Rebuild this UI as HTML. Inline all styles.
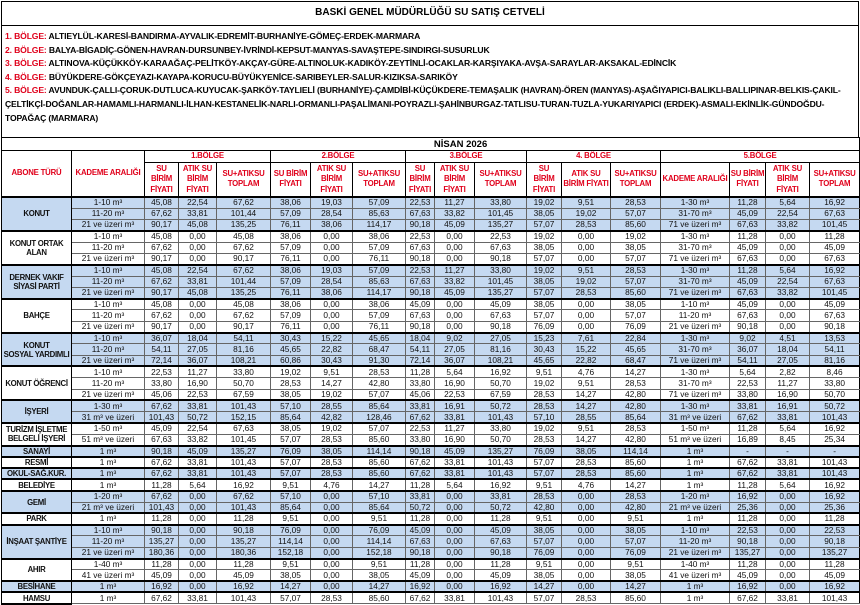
<!DOCTYPE html>
<html><head><meta charset="utf-8">
<style>
*{margin:0;padding:0;box-sizing:border-box}
body{width:860px;height:603px;background:#fff;font-family:"Liberation Sans",sans-serif;overflow:hidden;position:relative}
.top{position:absolute;left:1px;top:1px;width:858px;height:25px;border:1.5px solid #000;text-align:center;font-weight:bold;font-size:10px;line-height:22px}
.lines{position:absolute;left:1px;top:25px;width:858px;height:113px;border:1.5px solid #000;border-top:none;font-weight:bold;font-size:8.6px;padding:5px 0 0 3px;line-height:13.6px;letter-spacing:-0.15px;white-space:nowrap}
.lines b{color:#e0001b}
table{position:absolute;left:1px;top:137px;border-collapse:collapse;table-layout:fixed;width:858px;font-size:8.3px;color:#111}
td{border:1px solid #666;text-align:center;padding:0;line-height:9px;overflow:hidden;white-space:nowrap}
.h td{font-weight:bold;color:#e0001b;border-color:#000;font-size:7.8px;letter-spacing:-0.2px;line-height:10.5px}
.nis td{color:#000;font-weight:bold;font-size:9.5px;border:1.5px solid #000;line-height:11px}
tr.d td{height:11.3px}
tr.b td{background:#c5d9f1}
tr.g td{border-top:2px solid #000}
td.a{font-weight:bold;font-size:7.8px;letter-spacing:-0.3px;border-right:1.5px solid #000;border-left:1.5px solid #000;border-bottom:2px solid #000}
tr.d td:nth-last-child(4),tr.d td:nth-last-child(7),tr.d td:nth-last-child(10),tr.d td:nth-last-child(13),tr.d td:nth-last-child(16),tr.d td:nth-last-child(17){border-left:1.5px solid #000}
tr.d td:last-child{border-right:1.5px solid #000}
</style></head><body>
<div class="top">BASKİ GENEL MÜDÜRLÜĞÜ SU SATIŞ CETVELİ</div>
<div class="lines">
<b>1. BÖLGE:</b> ALTIEYLÜL-KARESİ-BANDIRMA-AYVALIK-EDREMİT-BURHANİYE-GÖMEÇ-ERDEK-MARMARA<br>
<b>2. BÖLGE:</b> BALYA-BİGADİÇ-GÖNEN-HAVRAN-DURSUNBEY-İVRİNDİ-KEPSUT-MANYAS-SAVAŞTEPE-SINDIRGI-SUSURLUK<br>
<b>3. BÖLGE:</b> ALTINOVA-KÜÇÜKKÖY-KARAAĞAÇ-PELİTKÖY-AKÇAY-GÜRE-ALTINOLUK-KADIKÖY-ZEYTİNLİ-OCAKLAR-KARŞIYAKA-AVŞA-SARAYLAR-AKSAKAL-EDİNCİK<br>
<b>4. BÖLGE:</b> BÜYÜKDERE-GÖKÇEYAZI-KAYAPA-KORUCU-BÜYÜKYENİCE-SARIBEYLER-SALUR-KIZIKSA-SARIKÖY<br>
<b>5. BÖLGE:</b> AVUNDUK-ÇALLI-ÇORUK-DUTLUCA-KUYUCAK-ŞARKÖY-TAYLIELİ (BURHANİYE)-ÇAMDİBİ-KÜÇÜKDERE-TEMAŞALIK (HAVRAN)-ÖREN (MANYAS)-AŞAĞIYAPICI-BALIKLI-BALLIPINAR-BELKIS-ÇAKIL-<br>
ÇELTİKÇİ-DOĞANLAR-HAMAMLI-HARMANLI-İLHAN-KESTANELİK-NARLI-ORMANLI-PAŞALİMANI-POYRAZLI-ŞAHİNBURGAZ-TATLISU-TURAN-TUZLA-YUKARIYAPICI (ERDEK)-ASMALI-EKİNLİK-GÜNDOĞDU-<br>
TOPAĞAÇ (MARMARA)
</div>
<table>
<colgroup><col style="width:70px"><col style="width:73px"><col style="width:34px"><col style="width:38px"><col style="width:54px"><col style="width:40px"><col style="width:42px"><col style="width:53px"><col style="width:29px"><col style="width:40px"><col style="width:52px"><col style="width:35px"><col style="width:49px"><col style="width:50px"><col style="width:69px"><col style="width:36px"><col style="width:44px"><col style="width:50px"></colgroup>
<tr class="nis"><td colspan="18" style="height:13px;text-align:center;padding-left:60px">NİSAN 2026</td></tr>
<tr class="h"><td rowspan="2">ABONE TÜRÜ</td><td rowspan="2">KADEME ARALIĞI</td><td colspan="3" style="height:11px">1.BÖLGE</td><td colspan="3">2.BÖLGE</td><td colspan="3">3.BÖLGE</td><td colspan="3">4. BÖLGE</td><td colspan="4">5.BÖLGE</td></tr>
<tr class="h"><td style="height:35px">SU<br>BİRİM<br>FİYATI</td><td>ATIK SU<br>BİRİM<br>FİYATI</td><td>SU+ATIKSU<br>TOPLAM</td><td>SU BİRİM<br>FİYATI</td><td>ATIK SU<br>BİRİM<br>FİYATI</td><td>SU+ATIKSU<br>TOPLAM</td><td>SU<br>BİRİM<br>FİYATI</td><td>ATIK SU<br>BİRİM<br>FİYATI</td><td>SU+ATIKSU<br>TOPLAM</td><td>SU<br>BİRİM<br>FİYATI</td><td>ATIK SU<br>BİRİM FİYATI</td><td>SU+ATIKSU<br>TOPLAM</td><td>KADEME ARALIĞI</td><td>SU BİRİM<br>FİYATI</td><td>ATIK SU<br>BİRİM<br>FİYATI</td><td>SU+ATIKSU<br>TOPLAM</td></tr>

<tr class="d b g"><td class="a" rowspan="3">KONUT</td><td>1-10 m³</td><td>45,08</td><td>22,54</td><td>67,62</td><td>38,06</td><td>19,03</td><td>57,09</td><td>22,53</td><td>11,27</td><td>33,80</td><td>19,02</td><td>9,51</td><td>28,53</td><td>1-30 m³</td><td>11,28</td><td>5,64</td><td>16,92</td></tr>
<tr class="d b"><td>11-20 m³</td><td>67,62</td><td>33,81</td><td>101,44</td><td>57,09</td><td>28,54</td><td>85,63</td><td>67,63</td><td>33,82</td><td>101,45</td><td>38,05</td><td>19,02</td><td>57,07</td><td>31-70 m³</td><td>45,09</td><td>22,54</td><td>67,63</td></tr>
<tr class="d b"><td>21 ve üzeri m³</td><td>90,17</td><td>45,08</td><td>135,25</td><td>76,11</td><td>38,06</td><td>114,17</td><td>90,18</td><td>45,09</td><td>135,27</td><td>57,07</td><td>28,53</td><td>85,60</td><td>71 ve üzeri m³</td><td>67,63</td><td>33,82</td><td>101,45</td></tr>

<tr class="d g"><td class="a" rowspan="3">KONUT ORTAK<br>ALAN</td><td>1-10 m³</td><td>45,08</td><td>0,00</td><td>45,08</td><td>38,06</td><td>0,00</td><td>38,06</td><td>22,53</td><td>0,00</td><td>22,53</td><td>19,02</td><td>0,00</td><td>19,02</td><td>1-30 m³</td><td>11,28</td><td>0,00</td><td>11,28</td></tr>
<tr class="d"><td>11-20 m³</td><td>67,62</td><td>0,00</td><td>67,62</td><td>57,09</td><td>0,00</td><td>57,09</td><td>67,63</td><td>0,00</td><td>67,63</td><td>38,05</td><td>0,00</td><td>38,05</td><td>31-70 m³</td><td>45,09</td><td>0,00</td><td>45,09</td></tr>
<tr class="d"><td>21 ve üzeri m³</td><td>90,17</td><td>0,00</td><td>90,17</td><td>76,11</td><td>0,00</td><td>76,11</td><td>90,18</td><td>0,00</td><td>90,18</td><td>57,07</td><td>0,00</td><td>57,07</td><td>71 ve üzeri m³</td><td>67,63</td><td>0,00</td><td>67,63</td></tr>

<tr class="d b g"><td class="a" rowspan="3">DERNEK VAKIF<br>SİYASİ PARTİ</td><td>1-10 m³</td><td>45,08</td><td>22,54</td><td>67,62</td><td>38,06</td><td>19,03</td><td>57,09</td><td>22,53</td><td>11,27</td><td>33,80</td><td>19,02</td><td>9,51</td><td>28,53</td><td>1-30 m³</td><td>11,28</td><td>5,64</td><td>16,92</td></tr>
<tr class="d b"><td>11-20 m³</td><td>67,62</td><td>33,81</td><td>101,44</td><td>57,09</td><td>28,54</td><td>85,63</td><td>67,63</td><td>33,82</td><td>101,45</td><td>38,05</td><td>19,02</td><td>57,07</td><td>31-70 m³</td><td>45,09</td><td>22,54</td><td>67,63</td></tr>
<tr class="d b"><td>21 ve üzeri m³</td><td>90,17</td><td>45,08</td><td>135,25</td><td>76,11</td><td>38,06</td><td>114,17</td><td>90,18</td><td>45,09</td><td>135,27</td><td>57,07</td><td>28,53</td><td>85,60</td><td>71 ve üzeri m³</td><td>67,63</td><td>33,82</td><td>101,45</td></tr>

<tr class="d g"><td class="a" rowspan="3">BAHÇE</td><td>1-10 m³</td><td>45,08</td><td>0,00</td><td>45,08</td><td>38,06</td><td>0,00</td><td>38,06</td><td>45,09</td><td>0,00</td><td>45,09</td><td>38,05</td><td>0,00</td><td>38,05</td><td>1-10 m³</td><td>45,09</td><td>0,00</td><td>45,09</td></tr>
<tr class="d"><td>11-20 m³</td><td>67,62</td><td>0,00</td><td>67,62</td><td>57,09</td><td>0,00</td><td>57,09</td><td>67,63</td><td>0,00</td><td>67,63</td><td>57,07</td><td>0,00</td><td>57,07</td><td>11-20 m³</td><td>67,63</td><td>0,00</td><td>67,63</td></tr>
<tr class="d"><td>21 ve üzeri m³</td><td>90,17</td><td>0,00</td><td>90,17</td><td>76,11</td><td>0,00</td><td>76,11</td><td>90,18</td><td>0,00</td><td>90,18</td><td>76,09</td><td>0,00</td><td>76,09</td><td>21 ve üzeri m³</td><td>90,18</td><td>0,00</td><td>90,18</td></tr>

<tr class="d b g"><td class="a" rowspan="3">KONUT<br>SOSYAL YARDIMLI</td><td>1-10 m³</td><td>36,07</td><td>18,04</td><td>54,11</td><td>30,43</td><td>15,22</td><td>45,65</td><td>18,04</td><td>9,02</td><td>27,05</td><td>15,23</td><td>7,61</td><td>22,84</td><td>1-30 m³</td><td>9,02</td><td>4,51</td><td>13,53</td></tr>
<tr class="d b"><td>11-20 m³</td><td>54,11</td><td>27,05</td><td>81,16</td><td>45,65</td><td>22,82</td><td>68,47</td><td>54,11</td><td>27,05</td><td>81,16</td><td>30,43</td><td>15,22</td><td>45,65</td><td>31-70 m³</td><td>36,07</td><td>18,04</td><td>54,11</td></tr>
<tr class="d b"><td>21 ve üzeri m³</td><td>72,14</td><td>36,07</td><td>108,21</td><td>60,86</td><td>30,43</td><td>91,30</td><td>72,14</td><td>36,07</td><td>108,21</td><td>45,65</td><td>22,82</td><td>68,47</td><td>71 ve üzeri m³</td><td>54,11</td><td>27,05</td><td>81,16</td></tr>

<tr class="d g"><td class="a" rowspan="3">KONUT ÖĞRENCİ</td><td>1-10 m³</td><td>22,53</td><td>11,27</td><td>33,80</td><td>19,02</td><td>9,51</td><td>28,53</td><td>11,28</td><td>5,64</td><td>16,92</td><td>9,51</td><td>4,76</td><td>14,27</td><td>1-30 m³</td><td>5,64</td><td>2,82</td><td>8,46</td></tr>
<tr class="d"><td>11-20 m³</td><td>33,80</td><td>16,90</td><td>50,70</td><td>28,53</td><td>14,27</td><td>42,80</td><td>33,80</td><td>16,90</td><td>50,70</td><td>19,02</td><td>9,51</td><td>28,53</td><td>31-70 m³</td><td>22,53</td><td>11,27</td><td>33,80</td></tr>
<tr class="d"><td>21 ve üzeri m³</td><td>45,06</td><td>22,53</td><td>67,59</td><td>38,05</td><td>19,02</td><td>57,07</td><td>45,06</td><td>22,53</td><td>67,59</td><td>28,53</td><td>14,27</td><td>42,80</td><td>71 ve üzeri m³</td><td>33,80</td><td>16,90</td><td>50,70</td></tr>

<tr class="d b g"><td class="a" rowspan="2">İŞYERİ</td><td>1-30 m³</td><td>67,62</td><td>33,81</td><td>101,43</td><td>57,10</td><td>28,55</td><td>85,64</td><td>33,81</td><td>16,91</td><td>50,72</td><td>28,53</td><td>14,27</td><td>42,80</td><td>1-30 m³</td><td>33,81</td><td>16,91</td><td>50,72</td></tr>
<tr class="d b"><td>31 m³ ve üzeri</td><td>101,43</td><td>50,72</td><td>152,15</td><td>85,64</td><td>42,82</td><td>128,46</td><td>67,62</td><td>33,81</td><td>101,43</td><td>57,10</td><td>28,55</td><td>85,64</td><td>31 m³ ve üzeri</td><td>67,62</td><td>33,81</td><td>101,43</td></tr>

<tr class="d g"><td class="a" rowspan="2">TURİZM İŞLETME<br>BELGELİ İŞYERİ</td><td>1-50 m³</td><td>45,09</td><td>22,54</td><td>67,63</td><td>38,05</td><td>19,02</td><td>57,07</td><td>22,53</td><td>11,27</td><td>33,80</td><td>19,02</td><td>9,51</td><td>28,53</td><td>1-50 m³</td><td>11,28</td><td>5,64</td><td>16,92</td></tr>
<tr class="d"><td>51 m³ ve üzeri</td><td>67,63</td><td>33,82</td><td>101,45</td><td>57,07</td><td>28,53</td><td>85,60</td><td>33,80</td><td>16,90</td><td>50,70</td><td>28,53</td><td>14,27</td><td>42,80</td><td>51 m³ ve üzeri</td><td>16,89</td><td>8,45</td><td>25,34</td></tr>

<tr class="d b g"><td class="a">SANAYİ</td><td>1 m³</td><td>90,18</td><td>45,09</td><td>135,27</td><td>76,09</td><td>38,05</td><td>114,14</td><td>90,18</td><td>45,09</td><td>135,27</td><td>76,09</td><td>38,05</td><td>114,14</td><td>1 m³</td><td>-</td><td>-</td><td>-</td></tr>
<tr class="d g"><td class="a">RESMİ</td><td>1 m³</td><td>67,62</td><td>33,81</td><td>101,43</td><td>57,07</td><td>28,53</td><td>85,60</td><td>67,62</td><td>33,81</td><td>101,43</td><td>57,07</td><td>28,53</td><td>85,60</td><td>1 m³</td><td>67,62</td><td>33,81</td><td>101,43</td></tr>
<tr class="d b g"><td class="a">OKUL-SAĞ.KUR.</td><td>1 m³</td><td>67,62</td><td>33,81</td><td>101,43</td><td>57,07</td><td>28,53</td><td>85,60</td><td>67,62</td><td>33,81</td><td>101,43</td><td>57,07</td><td>28,53</td><td>85,60</td><td>1 m³</td><td>67,62</td><td>33,81</td><td>101,43</td></tr>
<tr class="d g"><td class="a">BELEDİYE</td><td>1 m³</td><td>11,28</td><td>5,64</td><td>16,92</td><td>9,51</td><td>4,76</td><td>14,27</td><td>11,28</td><td>5,64</td><td>16,92</td><td>9,51</td><td>4,76</td><td>14,27</td><td>1 m³</td><td>11,28</td><td>5,64</td><td>16,92</td></tr>

<tr class="d b g"><td class="a" rowspan="2">GEMİ</td><td>1-20 m³</td><td>67,62</td><td>0,00</td><td>67,62</td><td>57,10</td><td>0,00</td><td>57,10</td><td>33,81</td><td>0,00</td><td>33,81</td><td>28,53</td><td>0,00</td><td>28,53</td><td>1-20 m³</td><td>16,92</td><td>0,00</td><td>16,92</td></tr>
<tr class="d b"><td>21 m³ ve üzeri</td><td>101,43</td><td>0,00</td><td>101,43</td><td>85,64</td><td>0,00</td><td>85,64</td><td>50,72</td><td>0,00</td><td>50,72</td><td>42,80</td><td>0,00</td><td>42,80</td><td>21 m³ ve üzeri</td><td>25,36</td><td>0,00</td><td>25,36</td></tr>

<tr class="d g"><td class="a">PARK</td><td>1 m³</td><td>11,28</td><td>0,00</td><td>11,28</td><td>9,51</td><td>0,00</td><td>9,51</td><td>11,28</td><td>0,00</td><td>11,28</td><td>9,51</td><td>0,00</td><td>9,51</td><td>1 m³</td><td>11,28</td><td>0,00</td><td>11,28</td></tr>

<tr class="d b g"><td class="a" rowspan="3">İNŞAAT ŞANTİYE</td><td>1-10 m³</td><td>90,18</td><td>0,00</td><td>90,18</td><td>76,09</td><td>0,00</td><td>76,09</td><td>45,09</td><td>0,00</td><td>45,09</td><td>38,05</td><td>0,00</td><td>38,05</td><td>1-10 m³</td><td>22,53</td><td>0,00</td><td>22,53</td></tr>
<tr class="d b"><td>11-20 m³</td><td>135,27</td><td>0,00</td><td>135,27</td><td>114,14</td><td>0,00</td><td>114,14</td><td>67,63</td><td>0,00</td><td>67,63</td><td>57,07</td><td>0,00</td><td>57,07</td><td>11-20 m³</td><td>90,18</td><td>0,00</td><td>90,18</td></tr>
<tr class="d b"><td>21 ve üzeri m³</td><td>180,36</td><td>0,00</td><td>180,36</td><td>152,18</td><td>0,00</td><td>152,18</td><td>90,18</td><td>0,00</td><td>90,18</td><td>76,09</td><td>0,00</td><td>76,09</td><td>21 ve üzeri m³</td><td>135,27</td><td>0,00</td><td>135,27</td></tr>

<tr class="d g"><td class="a" rowspan="2">AHIR</td><td>1-40 m³</td><td>11,28</td><td>0,00</td><td>11,28</td><td>9,51</td><td>0,00</td><td>9,51</td><td>11,28</td><td>0,00</td><td>11,28</td><td>9,51</td><td>0,00</td><td>9,51</td><td>1-40 m³</td><td>11,28</td><td>0,00</td><td>11,28</td></tr>
<tr class="d"><td>41 ve üzeri m³</td><td>45,09</td><td>0,00</td><td>45,09</td><td>38,05</td><td>0,00</td><td>38,05</td><td>45,09</td><td>0,00</td><td>45,09</td><td>38,05</td><td>0,00</td><td>38,05</td><td>41 ve üzeri m³</td><td>45,09</td><td>0,00</td><td>45,09</td></tr>

<tr class="d b g"><td class="a">BESİHANE</td><td>1 m³</td><td>16,92</td><td>0,00</td><td>16,92</td><td>14,27</td><td>0,00</td><td>14,27</td><td>16,92</td><td>0,00</td><td>16,92</td><td>14,27</td><td>0,00</td><td>14,27</td><td>1 m³</td><td>16,92</td><td>0,00</td><td>16,92</td></tr>
<tr class="d g"><td class="a">HAMSU</td><td>1 m³</td><td>67,62</td><td>33,81</td><td>101,43</td><td>57,07</td><td>28,53</td><td>85,60</td><td>67,62</td><td>33,81</td><td>101,43</td><td>57,07</td><td>28,53</td><td>85,60</td><td>1 m³</td><td>67,62</td><td>33,81</td><td>101,43</td></tr>
</table>
</body></html>
